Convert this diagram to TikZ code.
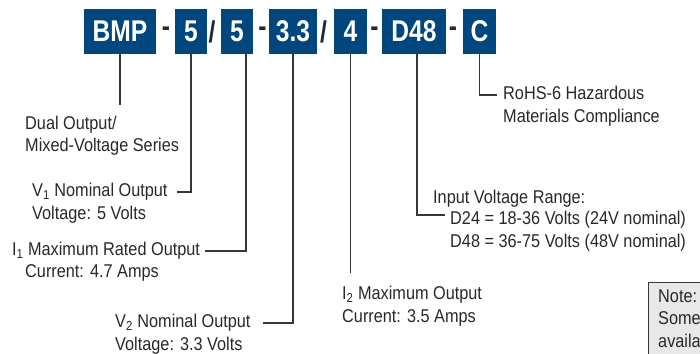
\documentclass[tikz,border=0pt]{standalone}
\usepackage{fontspec}
\usepackage{tikz}
\newfontfamily\condface[FakeStretch=0.88]{Liberation Sans}
\newfontfamily\boxface[FakeStretch=0.82]{Liberation Sans}
\definecolor{codeBlue}{RGB}{0,70,127}
\definecolor{inkGray}{RGB}{40,40,40}
\definecolor{leadGray}{RGB}{55,55,55}
\definecolor{noteFill}{RGB}{232,232,232}
\tikzset{
  code box/.style={fill=codeBlue,text=white,font=\boxface\bfseries\fontsize{30}{30}\selectfont,
    minimum height=45pt,inner sep=0pt},
  code mark/.style={text=inkGray,font=\boxface\bfseries\fontsize{30}{30}\selectfont,inner sep=0pt},
  label text/.style={text=inkGray,font=\condface\fontsize{18.5}{23}\selectfont,anchor=west,
    inner sep=0pt,text height=13.5pt,text depth=4pt},
  lead/.style={draw=leadGray,line width=1.2pt},
}

\begin{document}
\begin{tikzpicture}[x=1pt,y=-1pt]
\useasboundingbox (0,0) rectangle (700,353);
% part number boxes
\node[code box,minimum width=72pt] (seriesbox) at (120,31.5) {BMP};
\node[code box,minimum width=32pt] (vonebox) at (191,31.5) {5};
\node[code box,minimum width=32pt] (ionebox) at (237,31.5) {5};
\node[code box,minimum width=48pt] (vtwobox) at (293,31.5) {3.3};
\node[code box,minimum width=33pt] (itwobox) at (350.5,31.5) {4};
\node[code box,minimum width=64pt] (inputbox) at (414,31.5) {D48};
\node[code box,minimum width=33pt] (rohsbox) at (479.5,31.5) {C};
\node[code mark] (markA) at (166,31.5) {-};
\node[code mark] (markB) at (212,31.5) {/};
\node[code mark] (markC) at (262.5,31.5) {-};
\node[code mark] (markD) at (323.5,31.5) {/};
\node[code mark] (markE) at (374.5,31.5) {-};
\node[code mark] (markF) at (453,31.5) {-};
% labels
\node[label text] (series1) at (25,125) {Dual Output/};
\node[label text] (series2) at (25,147) {Mixed-Voltage Series};
\node[label text] (vone1) at (32,192) {V\textsubscript{1} Nominal Output};
\node[label text] (vone2) at (32,215) {Voltage: 5 Volts};
\node[label text] (ione1) at (12,251) {I\textsubscript{1} Maximum Rated Output};
\node[label text] (ione2) at (25,273) {Current: 4.7 Amps};
\node[label text] (vtwo1) at (115,323) {V\textsubscript{2} Nominal Output};
\node[label text] (vtwo2) at (115,346) {Voltage: 3.3 Volts};
\node[label text] (itwo1) at (342,295) {I\textsubscript{2} Maximum Output};
\node[label text] (itwo2) at (342,318) {Current: 3.5 Amps};
\node[label text] (input1) at (433,199) {Input Voltage Range:};
\node[label text] (input2) at (450,220) {D24 = 18-36 Volts (24V nominal)};
\node[label text] (input3) at (450,243) {D48 = 36-75 Volts (48V nominal)};
\node[label text] (rohs1) at (503,95) {RoHS-6 Hazardous};
\node[label text] (rohs2) at (503,118) {Materials Compliance};
% note box
\draw[draw=leadGray,fill=noteFill,line width=0.8pt] (648,282) rectangle (720,370);
\node[label text] (note1) at (658,298) {Note:};
\node[label text] (note2) at (658,320) {Some};
\node[label text] (note3) at (658,343) {availa};
% leads
\coordinate (seriesend) at (120,105);
\coordinate (itwoend) at (350.5,273);
\coordinate (inputend) at (445,215);
\draw[lead] (seriesbox.south) -- (seriesend);
\draw[lead] (vonebox.south) |- ([xshift=9pt]vone1.east);
\draw[lead] ([xshift=9pt]ionebox.south) |- ([xshift=5pt]ione1.east);
\draw[lead] (vtwobox.south) |- ([xshift=12pt]vtwo1.east);
\draw[lead] (itwobox.south) -- (itwoend);
\draw[lead] ([xshift=3pt]inputbox.south) |- (inputend);
\draw[lead] (rohsbox.south) |- ([xshift=-6pt]rohs1.west);
\end{tikzpicture}
\end{document}
